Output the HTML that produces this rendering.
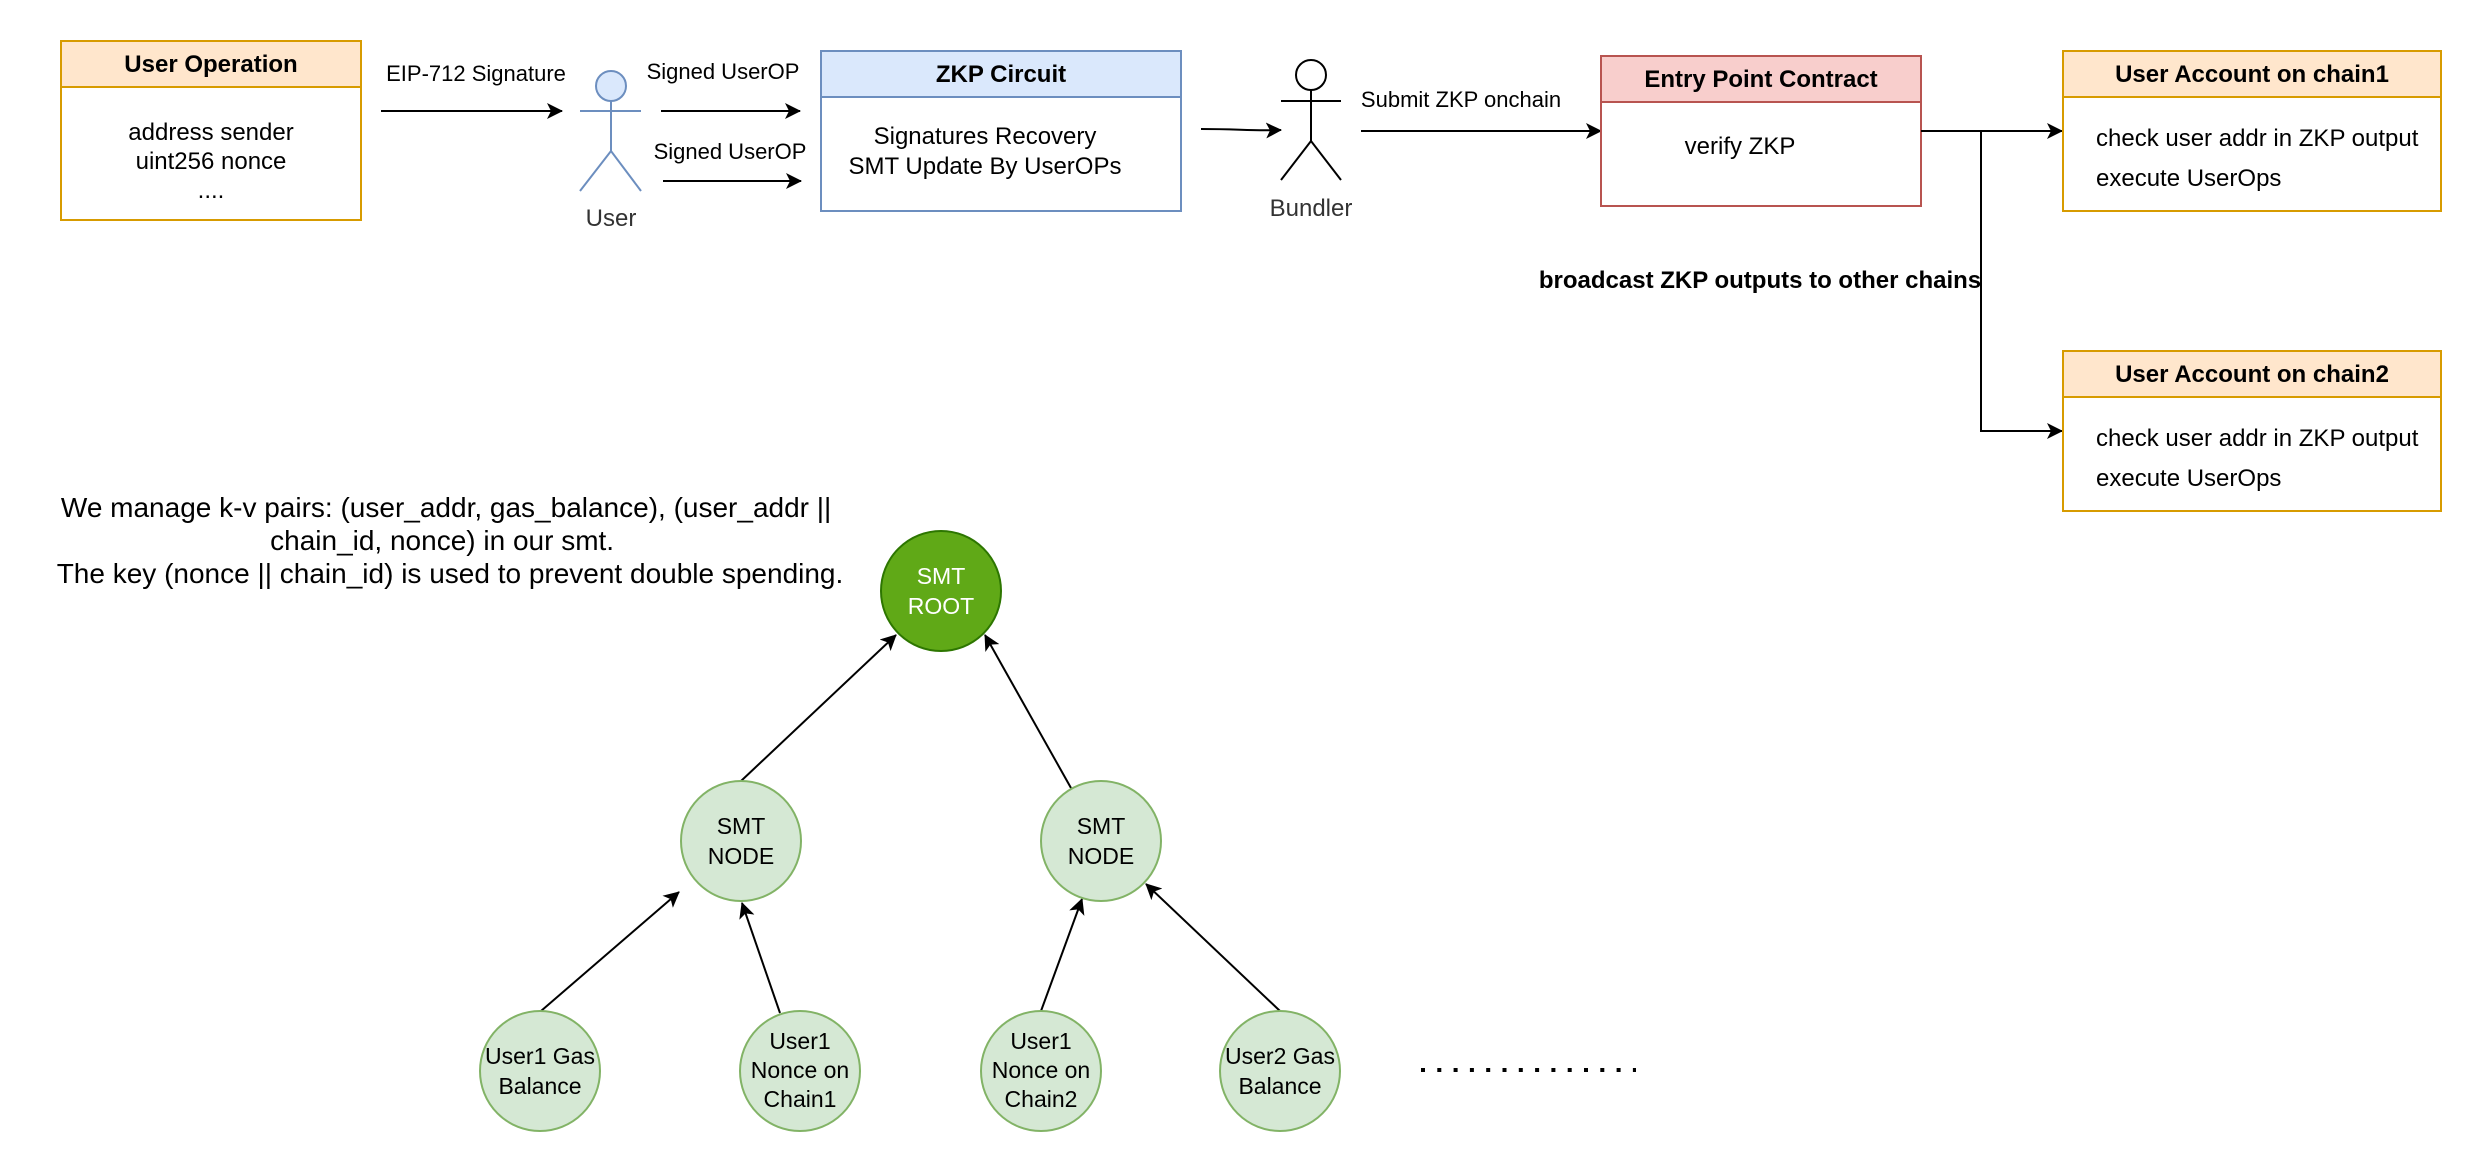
<!DOCTYPE html>
<html><head><meta charset="utf-8"><style>html,body{margin:0;padding:0;background:#fff}svg{display:block}</style></head>
<body>
<svg width="2482" height="1172" viewBox="0 0 2482 1172" xmlns="http://www.w3.org/2000/svg" font-family="'Liberation Sans', Arial, sans-serif">
<defs>
<marker id="b" markerWidth="16" markerHeight="16" refX="15" refY="8" orient="auto" markerUnits="userSpaceOnUse" viewBox="0 0 16 16">
<path d="M0,0 L16,8 L0,16 L4,8 Z" fill="#000"/></marker>
</defs>
<rect width="2482" height="1172" fill="#fff"/>

<rect x="61" y="41" width="300" height="179" fill="#fff" stroke="#d79b00" stroke-width="2"/>
<rect x="61" y="41" width="300" height="46" fill="#ffe6cc" stroke="#d79b00" stroke-width="2"/>
<text x="211" y="72" font-size="24" font-weight="bold" text-anchor="middle">User Operation</text>
<text x="211" y="140" font-size="24" text-anchor="middle">address sender</text>
<text x="211" y="169" font-size="24" text-anchor="middle">uint256 nonce</text>
<text x="211" y="198" font-size="24" text-anchor="middle">....</text>

<line x1="381" y1="111" x2="562" y2="111" stroke="#000" stroke-width="2" marker-end="url(#b)"/>
<text x="476" y="81" font-size="22" text-anchor="middle">EIP-712 Signature</text>

<ellipse cx="611" cy="86" rx="15" ry="15" fill="#dae8fc" stroke="#6c8ebf" stroke-width="2"/>
<line x1="580" y1="111" x2="641" y2="111" stroke="#6c8ebf" stroke-width="2"/>
<line x1="611" y1="101" x2="611" y2="151" stroke="#6c8ebf" stroke-width="2"/>
<polyline points="580,191 611,151 641,191" fill="none" stroke="#6c8ebf" stroke-width="2"/>
<text x="611" y="226" font-size="24" text-anchor="middle" fill="#333">User</text>

<line x1="661" y1="111" x2="800" y2="111" stroke="#000" stroke-width="2" marker-end="url(#b)"/>
<text x="723" y="79" font-size="22" text-anchor="middle">Signed UserOP</text>
<line x1="663" y1="181" x2="801" y2="181" stroke="#000" stroke-width="2" marker-end="url(#b)"/>
<text x="730" y="159" font-size="22" text-anchor="middle">Signed UserOP</text>

<rect x="821" y="51" width="360" height="160" fill="#fff" stroke="#6c8ebf" stroke-width="2"/>
<rect x="821" y="51" width="360" height="46" fill="#dae8fc" stroke="#6c8ebf" stroke-width="2"/>
<text x="1001" y="82" font-size="24" font-weight="bold" text-anchor="middle">ZKP Circuit</text>
<text x="985" y="144" font-size="24" text-anchor="middle">Signatures Recovery</text>
<text x="985" y="174" font-size="24" text-anchor="middle">SMT Update By UserOPs</text>

<path d="M1201,129 C1240,129 1250,131 1281,130" fill="none" stroke="#000" stroke-width="2" marker-end="url(#b)"/>

<ellipse cx="1311" cy="75" rx="15" ry="15" fill="#fff" stroke="#000" stroke-width="2"/>
<line x1="1281" y1="101" x2="1341" y2="101" stroke="#000" stroke-width="2"/>
<line x1="1311" y1="90" x2="1311" y2="141" stroke="#000" stroke-width="2"/>
<polyline points="1281,180 1311,141 1341,180" fill="none" stroke="#000" stroke-width="2"/>
<text x="1311" y="216" font-size="24" text-anchor="middle" fill="#333">Bundler</text>

<line x1="1361" y1="131" x2="1601" y2="131" stroke="#000" stroke-width="2" marker-end="url(#b)"/>
<text x="1461" y="107" font-size="22" text-anchor="middle">Submit ZKP onchain</text>

<rect x="1601" y="56" width="320" height="150" fill="#fff" stroke="#b85450" stroke-width="2"/>
<rect x="1601" y="56" width="320" height="46" fill="#f8cecc" stroke="#b85450" stroke-width="2"/>
<text x="1761" y="87" font-size="24" font-weight="bold" text-anchor="middle">Entry Point Contract</text>
<text x="1740" y="154" font-size="24" text-anchor="middle">verify ZKP</text>

<line x1="1921" y1="131" x2="2062" y2="131" stroke="#000" stroke-width="2" marker-end="url(#b)"/>
<polyline points="1981,131 1981,431 2062,431" fill="none" stroke="#000" stroke-width="2" marker-end="url(#b)"/>
<text x="1760" y="288" font-size="24" font-weight="bold" text-anchor="middle">broadcast ZKP outputs to other chains</text>

<rect x="2063" y="51" width="378" height="160" fill="#fff" stroke="#d79b00" stroke-width="2"/>
<rect x="2063" y="51" width="378" height="46" fill="#ffe6cc" stroke="#d79b00" stroke-width="2"/>
<text x="2252" y="82" font-size="24" font-weight="bold" text-anchor="middle">User Account on chain1</text>
<text x="2096" y="146" font-size="24">check user addr in ZKP output</text>
<text x="2096" y="186" font-size="24">execute UserOps</text>
<rect x="2063" y="351" width="378" height="160" fill="#fff" stroke="#d79b00" stroke-width="2"/>
<rect x="2063" y="351" width="378" height="46" fill="#ffe6cc" stroke="#d79b00" stroke-width="2"/>
<text x="2252" y="382" font-size="24" font-weight="bold" text-anchor="middle">User Account on chain2</text>
<text x="2096" y="446" font-size="24">check user addr in ZKP output</text>
<text x="2096" y="486" font-size="24">execute UserOps</text>

<text font-size="28" text-anchor="middle">
<tspan x="450" y="517">We manage k-v pairs: (user_addr, gas_balance), (user_addr ||</tspan>
<tspan x="446" y="550">chain_id, nonce) in our smt.</tspan>
<tspan x="450" y="583">The key (nonce || chain_id) is used to prevent double spending.</tspan>
</text>

<g stroke="#000" stroke-width="2" marker-end="url(#b)">
<line x1="741" y1="781" x2="896" y2="635"/>
<line x1="1071" y1="788" x2="985" y2="635"/>
<line x1="541" y1="1011" x2="679" y2="892"/>
<line x1="780" y1="1013" x2="742" y2="903"/>
<line x1="1041" y1="1011" x2="1082" y2="899"/>
<line x1="1280" y1="1011" x2="1146" y2="884"/>
</g>

<circle cx="941" cy="591" r="60" fill="#60a917" stroke="#2d7600" stroke-width="2"/>
<text x="941" y="584" font-size="23" text-anchor="middle" fill="#fff">SMT</text>
<text x="941" y="614" font-size="23" text-anchor="middle" fill="#fff">ROOT</text>
<g fill="#d5e8d4" stroke="#82b366" stroke-width="2">
<circle cx="741" cy="841" r="60"/>
<circle cx="1101" cy="841" r="60"/>
<circle cx="540" cy="1071" r="60"/>
<circle cx="800" cy="1071" r="60"/>
<circle cx="1041" cy="1071" r="60"/>
<circle cx="1280" cy="1071" r="60"/>
</g>
<g font-size="23" text-anchor="middle" fill="#000">
<text x="741" y="834">SMT</text><text x="741" y="864">NODE</text>
<text x="1101" y="834">SMT</text><text x="1101" y="864">NODE</text>
<text x="540" y="1064">User1 Gas</text><text x="540" y="1094">Balance</text>
<text x="800" y="1049">User1</text><text x="800" y="1078">Nonce on</text><text x="800" y="1107">Chain1</text>
<text x="1041" y="1049">User1</text><text x="1041" y="1078">Nonce on</text><text x="1041" y="1107">Chain2</text>
<text x="1280" y="1064">User2 Gas</text><text x="1280" y="1094">Balance</text>
</g>
<line x1="1421" y1="1070" x2="1636" y2="1070" stroke="#000" stroke-width="4" stroke-dasharray="4,12.3"/>
</svg>
</body></html>
